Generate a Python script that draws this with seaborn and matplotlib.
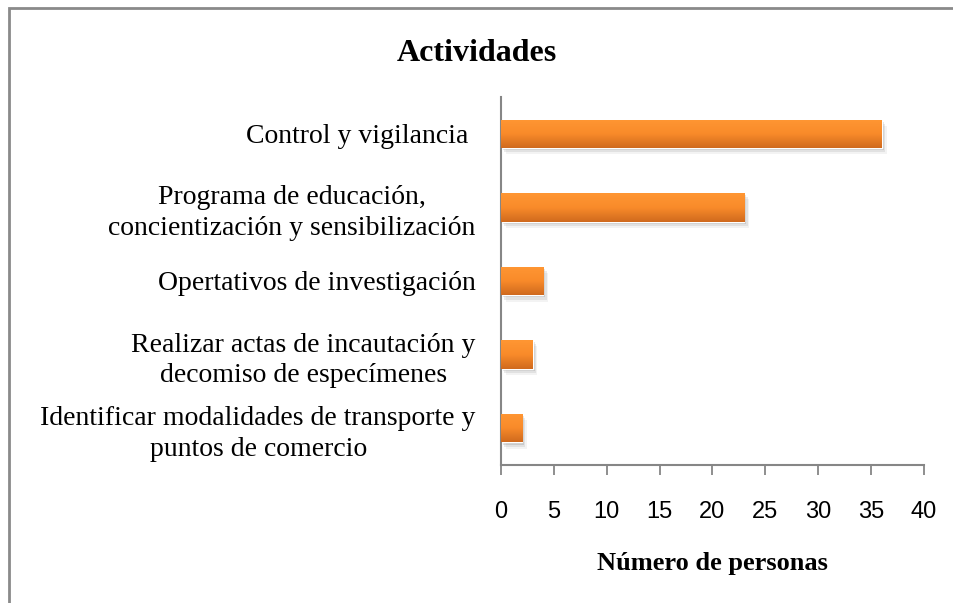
import numpy as np
import pandas as pd
import matplotlib
matplotlib.use("Agg")
import matplotlib.pyplot as plt
import matplotlib.patheffects as pe
from matplotlib.colors import LinearSegmentedColormap
from matplotlib.patches import Rectangle
import seaborn as sns

actividades = [
    "Control y vigilancia ",
    "Programa de educación,\nconcientización y sensibilización",
    "Opertativos de investigación",
    "Realizar actas de incautación y\ndecomiso de especímenes",
    "Identificar modalidades de transporte y\npuntos de comercio",
]
personas = [36, 23, 4, 3, 2]
x_ticks = [0, 5, 10, 15, 20, 25, 30, 35, 40]

df = pd.DataFrame({"actividad": actividades, "personas": personas})

sns.set_theme(style="white")
plt.rcParams["font.family"] = ["Liberation Serif", "DejaVu Serif"]
plt.rcParams["text.color"] = "black"
plt.rcParams["xtick.color"] = "black"
plt.rcParams["ytick.color"] = "black"
plt.rcParams["axes.labelcolor"] = "black"

fig = plt.figure(figsize=(9.54, 6.03), dpi=100)
ax = fig.add_axes([0.525, 0.229, 0.4435, 0.61])

sns.barplot(data=df, x="personas", y="actividad", orient="h",
            color="#F58A2C", width=0.39, ax=ax, saturation=1)

# gradient fill + soft shadow on each bar
grad = LinearSegmentedColormap.from_list("naranja", ["#D06A1E", "#F98B2A", "#FF9633"])
shadow = [pe.SimplePatchShadow(offset=(1.5, -1.5), alpha=0.18, shadow_rgbFace="#606060"),
          pe.SimplePatchShadow(offset=(2.5, -3.0), alpha=0.12, shadow_rgbFace="#606060"),
          pe.SimplePatchShadow(offset=(3.5, -4.5), alpha=0.07, shadow_rgbFace="#606060"),
          pe.Normal()]
for bar in ax.patches:
    bar.set_path_effects(shadow)
    x0, y0 = bar.get_x(), bar.get_y()
    w, h = bar.get_width(), bar.get_height()
    img = ax.imshow(np.linspace(0, 1, 64).reshape(-1, 1), cmap=grad, aspect="auto",
                    extent=(x0, x0 + w, y0 + h, y0), origin="lower", zorder=3,
                    interpolation="bilinear")
    img.set_clip_path(bar)

ax.set_xlim(0, 40)
ax.set_ylim(4.5, -0.5)
ax.set_xticks(x_ticks)
ax.set_xticklabels([str(t) for t in x_ticks], family=["Liberation Sans", "DejaVu Sans"],
                   fontsize=17)
ax.tick_params(axis="x", direction="out", length=7, width=1.3, color="#868686",
               pad=19, bottom=True)
ax.tick_params(axis="y", length=0, pad=18, labelsize=20)
for lab in ax.get_yticklabels():
    lab.set_multialignment("center")
    lab.set_linespacing(1.3)

for side in ["top", "right"]:
    ax.spines[side].set_visible(False)
for side in ["left", "bottom"]:
    ax.spines[side].set_color("#868686")
    ax.spines[side].set_linewidth(1.5)

ax.set_ylabel("")
ax.set_xlabel("Número de personas", fontsize=19, fontweight="bold", labelpad=21)
fig.text(0.5, 0.912, "Actividades", ha="center", va="center",
         fontsize=23, fontweight="bold")

# chart area frame (cut off at right and bottom)
fig.patches.append(Rectangle((0.009, -0.05), 1.2, 0.037 + 1.0, transform=fig.transFigure,
                             fill=False, edgecolor="#8a8a8a", linewidth=2.0))

fig.savefig("out.png", dpi=100)
